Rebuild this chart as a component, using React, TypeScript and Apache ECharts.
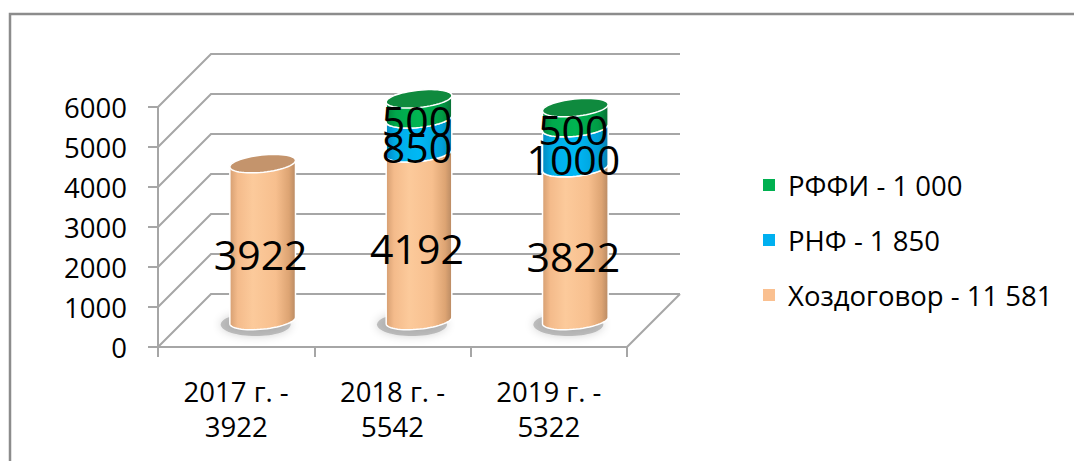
import React, { useEffect, useRef } from "react";
import * as echarts from "echarts";

// ---- data ----
const categories = ["2017 г. -\n3922", "2018 г. -\n5542", "2019 г. -\n5322"];
const contractValues = [3922, 4192, 3822];
const rnfValues = [0, 850, 1000];
const rffiValues = [0, 500, 500];
const yTicks = [0, 1000, 2000, 3000, 4000, 5000, 6000];
const seriesNames = ["Хоздоговор - 11 581", "РНФ - 1 850", "РФФИ - 1 000"];
const legendOrder = ["РФФИ - 1 000", "РНФ - 1 850", "Хоздоговор - 11 581"];

// ---- geometry / style ----
const DEPTH = 53;
const RX = 33;
const RY = 8.6;
const TILT = -0.105;
const FONT = "'Open Sans', sans-serif";
const GRID_COLOR = "#a6a6a6";
const AXIS_FONT = 27.5;

function ellipsePoints(cx: number, cy: number, a0: number, a1: number, n: number) {
  const pts: number[][] = [];
  for (let k = 0; k <= n; k++) {
    const phi = a0 + ((a1 - a0) * k) / n;
    const x = RX * Math.cos(phi);
    const y = RY * Math.sin(phi);
    pts.push([
      cx + x * Math.cos(TILT) - y * Math.sin(TILT),
      cy + x * Math.sin(TILT) + y * Math.cos(TILT),
    ]);
  }
  return pts;
}

const grad = (stops: [number, string][]) => ({
  type: "linear",
  x: 0,
  y: 0,
  x2: 1,
  y2: 0,
  colorStops: stops.map(([offset, color]) => ({ offset, color })),
});

const styles = [
  {
    color: "#fac090",
    cap: "#c4946c",
    body: grad([
      [0, "#d69f72"],
      [0.12, "#f4bb8b"],
      [0.35, "#fcca9b"],
      [0.7, "#f7bf8e"],
      [0.9, "#dda473"],
      [1, "#b98a63"],
    ]),
  },
  {
    color: "#00b0f0",
    cap: "#0f8fc0",
    body: grad([
      [0, "#0089c0"],
      [0.15, "#00aee8"],
      [0.5, "#00b8f5"],
      [0.85, "#009fd8"],
      [1, "#0a7fae"],
    ]),
  },
  {
    color: "#00b050",
    cap: "#0f8a3e",
    body: grad([
      [0, "#00843c"],
      [0.15, "#00a94c"],
      [0.5, "#00b552"],
      [0.85, "#009b45"],
      [1, "#0a6f36"],
    ]),
  },
];

function buildStacked() {
  const layers = [contractValues, rnfValues, rffiValues];
  const base = categories.map(() => 0);
  return layers.map((vals) =>
    vals.map((v, i) => {
      const s = base[i];
      base[i] += v;
      return [i, s, s + v];
    })
  );
}

function makeCylinderRender(st: any) {
  return (params: any, api: any) => {
    const i = api.value(0);
    const s = api.value(1);
    const e = api.value(2);
    if (!(e > s)) return { type: "group", children: [] };
    const front = api.coord([i, s]);
    const cx = front[0] + DEPTH / 2;
    const yb = front[1] - DEPTH / 2;
    const yt = api.coord([i, e])[1] - DEPTH / 2;
    const ymid = api.coord([i, (s + e) / 2])[1];
    const children: any[] = [];
    if (s === 0) {
      children.push({
        type: "ellipse",
        shape: { cx: cx - 7, cy: yb + 4, rx: RX + 2, ry: RY + 3 },
        style: {
          fill: "rgba(110,110,110,0.4)",
          shadowBlur: 10,
          shadowColor: "rgba(0,0,0,0.45)",
        },
      });
    }
    const bodyPts = [
      ...ellipsePoints(cx, yb, 0, Math.PI, 30),
      ...ellipsePoints(cx, yt, Math.PI, 2 * Math.PI, 30),
    ];
    children.push({
      type: "polygon",
      shape: { points: bodyPts },
      style: { fill: st.body, stroke: "#ffffff", lineWidth: 1.5 },
    });
    children.push({
      type: "polygon",
      shape: { points: ellipsePoints(cx, yt, 0, 2 * Math.PI, 60) },
      style: { fill: st.cap, stroke: "#ffffff", lineWidth: 1.5 },
    });
    children.push({
      type: "text",
      z2: 100,
      x: cx - 2,
      y: ymid - 15,
      style: {
        text: String(e - s),
        fontSize: 41,
        fontFamily: FONT,
        fill: "#000",
        align: "center",
        verticalAlign: "middle",
      },
    });
    return { type: "group", children };
  };
}

function frameRender(params: any, api: any) {
  const v = api.value(1);
  const cs = params.coordSys;
  const y = api.coord([0, v])[1];
  const L = cs.x;
  const R = cs.x + cs.width;
  const st = { stroke: GRID_COLOR, lineWidth: 2, fill: "none" };
  const children: any[] = [
    {
      type: "polyline",
      shape: { points: [[L, y], [L + DEPTH, y - DEPTH], [R + DEPTH, y - DEPTH]] },
      style: st,
    },
  ];
  if (v === 0) {
    children.push({
      type: "line",
      shape: { x1: R, y1: y, x2: R + DEPTH, y2: y - DEPTH },
      style: st,
    });
  }
  return { type: "group", children };
}

export default function App() {
  const ref = useRef<HTMLDivElement>(null);
  useEffect(() => {
    document.body.style.margin = "0";
    if (!ref.current) return;
    const chart = echarts.init(ref.current, undefined, { renderer: "svg" });
    const stacked = buildStacked();
    chart.setOption({
      animation: false,
      backgroundColor: "#ffffff",
      textStyle: { fontFamily: FONT },
      grid: {
        left: 158,
        top: 107,
        width: 469,
        height: 240,
        containLabel: false,
        outerBoundsMode: "none",
      },
      xAxis: {
        type: "category",
        data: categories,
        boundaryGap: true,
        axisLine: { show: true, lineStyle: { color: GRID_COLOR, width: 2 } },
        axisTick: { show: true, length: 10, interval: 0, lineStyle: { color: GRID_COLOR, width: 2 } },
        axisLabel: {
          interval: 0,
          fontSize: AXIS_FONT,
          lineHeight: 35,
          margin: 27,
          color: "#000",
          fontFamily: FONT,
        },
        splitLine: { show: false },
      },
      yAxis: {
        type: "value",
        min: 0,
        max: 6000,
        interval: 1000,
        axisLine: { show: true, lineStyle: { color: GRID_COLOR, width: 2 } },
        axisTick: { show: true, length: 10, lineStyle: { color: GRID_COLOR, width: 2 } },
        axisLabel: {
          fontSize: AXIS_FONT,
          margin: 31,
          color: "#000",
          fontFamily: FONT,
          formatter: (v: number) => String(v),
        },
        splitLine: { show: false },
      },
      legend: {
        orient: "vertical",
        left: 763,
        top: 171,
        padding: 0,
        itemWidth: 12,
        itemHeight: 12,
        itemGap: 27,
        icon: "rect",
        selectedMode: false,
        data: legendOrder,
        textStyle: {
          fontSize: AXIS_FONT,
          lineHeight: 28,
          color: "#000",
          fontFamily: FONT,
          padding: [0, 0, 0, 8],
        },
      },
      graphic: [
        {
          type: "polyline",
          silent: true,
          shape: { points: [[10, 461], [10, 14], [1074, 14]] },
          style: { stroke: "#8c8c8c", lineWidth: 2.5, fill: "none" },
        },
      ],
      series: [
        {
          type: "custom",
          name: "frame",
          z: 1,
          silent: true,
          renderItem: frameRender,
          data: yTicks.map((v) => [0, v]),
        },
        ...stacked.map((data, k) => ({
          type: "custom",
          name: seriesNames[k],
          z: 2,
          silent: true,
          itemStyle: { color: styles[k].color },
          renderItem: makeCylinderRender(styles[k]),
          data,
        })),
      ],
    });
    return () => chart.dispose();
  }, []);
  return <div ref={ref} style={{ width: 1074, height: 461 }} />;
}
